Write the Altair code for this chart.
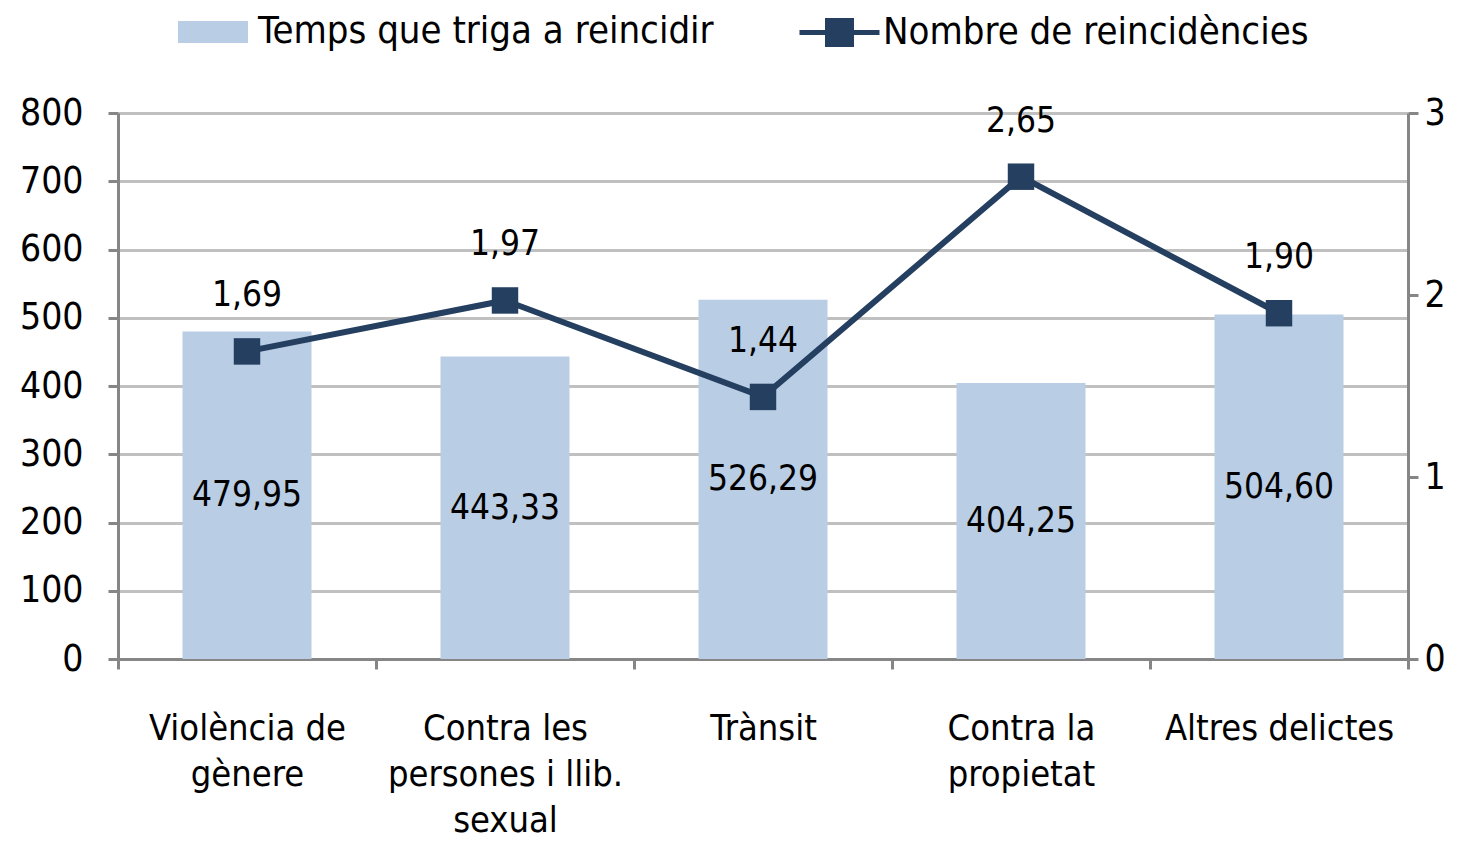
import altair as alt
import pandas as pd

categories = ["Violència de\ngènere", "Contra les\npersones i llib.\nsexual", "Trànsit",
              "Contra la\npropietat", "Altres delictes"]
temps = [479.95, 443.33, 526.29, 404.25, 504.60]
nombre = [1.69, 1.97, 1.44, 2.65, 1.90]
left_ticks = [0, 100, 200, 300, 400, 500, 600, 700, 800]
right_ticks = [0, 1, 2, 3]
bar_name = "Temps que triga a reincidir"
line_name = "Nombre de reincidències"

df = pd.DataFrame({"cat": categories, "temps": temps, "nombre": nombre})

FONT = "DejaVu Sans Condensed"
BAR_C = "#B9CDE5"
LINE_C = "#243F60"
AX_C = "#868686"
GRID_C = "#C0C0C0"

x = alt.X("cat:N", sort=categories, title=None,
          scale=alt.Scale(paddingInner=0, paddingOuter=0),
          axis=alt.Axis(labelAngle=0, labelExpr="split(datum.label, '\\n')",
                        labelFontSize=36, labelLineHeight=46, labelColor="black",
                        labelPadding=42, tickBand="extent", tickSize=10, labelLimit=400,
                        tickColor=AX_C, tickWidth=3, domainColor=AX_C, domainWidth=3,
                        labelFont=FONT))

base = alt.Chart(df).transform_calculate(
    half="datum.temps / 2",
    tlab="replace(format(datum.temps, '.2f'), '.', ',')",
    nlab="replace(format(datum.nombre, '.2f'), '.', ',')",
    bname=f"'{bar_name}'",
    lname=f"'{line_name}'",
)

yl = alt.Scale(domain=[0, 800])
yr = alt.Scale(domain=[0, 3])

bars = base.mark_bar(color=BAR_C, width=alt.RelativeBandSize(0.5)).encode(
    x=x,
    y=alt.Y("temps:Q", scale=yl, title=None,
            axis=alt.Axis(values=left_ticks, grid=True, gridColor=GRID_C, gridWidth=3,
                          tickSize=10, tickColor=AX_C, tickWidth=3, domainColor=AX_C,
                          domainWidth=3, labelFontSize=37, labelColor="black",
                          labelPadding=25, labelFont=FONT)),
    fill=alt.Fill("bname:N", scale=alt.Scale(domain=[bar_name], range=[BAR_C]),
                  legend=alt.Legend(title=None, orient="none", legendX=60, legendY=-116,
                                    symbolType="M-1,-0.314H1V0.314H-1Z", symbolSize=4900,
                                    symbolStrokeWidth=0, labelFontSize=38, labelFont=FONT,
                                    labelColor="black", labelOffset=10, labelLimit=700)),
)

bar_text = base.mark_text(fontSize=35, font=FONT, color="black", baseline="middle").encode(
    x=x, y=alt.Y("half:Q", scale=yl), text="tlab:N")

line = base.mark_line(color=LINE_C, strokeWidth=6).encode(
    x=x,
    y=alt.Y("nombre:Q", scale=yr, title=None,
            axis=alt.Axis(orient="right", values=right_ticks, format="d", grid=False,
                          tickSize=10, tickColor=AX_C, tickWidth=3, domainColor=AX_C,
                          domainWidth=3, labelFontSize=37, labelColor="black",
                          labelPadding=6, labelFont=FONT)),
    stroke=alt.Stroke("lname:N", scale=alt.Scale(domain=[line_name], range=[LINE_C]),
                      legend=alt.Legend(title=None, orient="none", legendX=679, legendY=-123,
                                        symbolType="M-1,0H1M-0.3,-0.3H0.3V0.3H-0.3Z",
                                        symbolSize=6400, symbolStrokeWidth=5,
                                        symbolFillColor=LINE_C, labelFontSize=38,
                                        labelFont=FONT, labelColor="black", labelOffset=1,
                                        labelLimit=700)),
)

points = base.mark_square(color=LINE_C, size=700, opacity=1).encode(
    x=x, y=alt.Y("nombre:Q", scale=yr))

line_text = base.mark_text(fontSize=35, font=FONT, color="black", dy=-56).encode(
    x=x, y=alt.Y("nombre:Q", scale=yr), text="nlab:N")

left = alt.layer(bars, bar_text)
right = alt.layer(line, points, line_text)

chart = alt.layer(left, right).resolve_scale(y="independent", fill="independent",
                                             stroke="independent").properties(
    width=1290, height=546,
    autosize=alt.AutoSizeParams(type="none"),
    padding={"left": 110, "top": 105, "right": 43, "bottom": 182},
).configure_view(stroke=None).configure(font=FONT)

chart.save("out.html", embed_options={"renderer": "svg", "actions": False})
